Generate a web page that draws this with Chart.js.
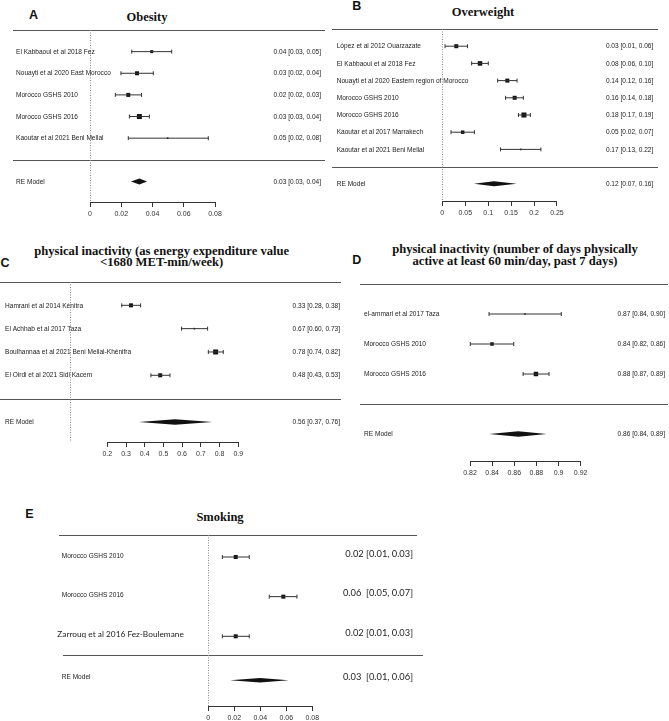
<!DOCTYPE html>
<html><head><meta charset="utf-8">
<script src="https://cdn.jsdelivr.net/npm/chart.js@4.4.1/dist/chart.umd.min.js"></script>
<style>
html,body{margin:0;padding:0;background:#fff;width:669px;height:721px;overflow:hidden;position:relative}
canvas{position:absolute}
.t{position:absolute;font-family:'Liberation Serif','Times New Roman',serif;font-weight:bold;color:#111;text-align:center;white-space:nowrap;transform:translate(-50%,-50%)}
.l{position:absolute;font-family:'Liberation Sans',Arial,sans-serif;font-weight:bold;color:#111;font-size:12.5px;line-height:13px;transform:translate(-50%,-50%)}
</style></head><body>
<div class="l" style="left:33.5px;top:14.6px">A</div>
<div class="l" style="left:356.7px;top:6px">B</div>
<div class="l" style="left:5px;top:262.5px">C</div>
<div class="l" style="left:356.7px;top:259.5px">D</div>
<div class="l" style="left:29.3px;top:514px">E</div>
<div class="t" style="left:147px;top:17px;font-size:12.5px">Obesity</div>
<div class="t" style="left:483px;top:12.3px;font-size:12.5px">Overweight</div>
<div class="t" style="left:161.7px;top:257.5px;font-size:12.6px;line-height:11.8px">physical inactivity (as energy expenditure value<br>&lt;1680 MET-min/week)</div>
<div class="t" style="left:515px;top:254.5px;font-size:12.6px;line-height:12.4px">physical inactivity (number of days physically<br>active at least 60 min/day, past 7 days)</div>
<div class="t" style="left:220px;top:516.7px;font-size:12.5px">Smoking</div>
<script>
// ---------- DATA ----------
// A: Obesity
const studiesA = ["El Kabbaoui et al 2018 Fez","Nouayti et al 2020 East Morocco","Morocco GSHS 2010","Morocco GSHS 2016","Kaoutar et al 2021 Beni Mellal"];
const estA = [0.0395,0.0301,0.0245,0.0316,0.0497];
const loA  = [0.0267,0.0198,0.0162,0.0252,0.0245];
const hiA  = [0.0523,0.0405,0.0330,0.0380,0.0757];
const ciTextA = ["0.04 [0.03, 0.05]","0.03 [0.02, 0.04]","0.02 [0.02, 0.03]","0.03 [0.03, 0.04]","0.05 [0.02, 0.08]"];
const reA = [0.0316,0.0262,0.0365];
const reTextA = "0.03 [0.03, 0.04]";
const ticksA = [0,0.02,0.04,0.06,0.08];
const tickLabelsA = ["0","0.02","0.04","0.06","0.08"];

// B: Overweight
const studiesB = ["López et al 2012 Ouarzazate","El Kabbaoui et al 2018 Fez","Nouayti et al 2020 Eastern region of Morocco","Morocco GSHS 2010","Morocco GSHS 2016","Kaoutar et al 2017 Marrakech","Kaoutar et al 2021 Beni Mellal"];
const estB = [0.0305,0.0822,0.1418,0.1578,0.1780,0.0444,0.1710];
const loB  = [0.0060,0.0640,0.1207,0.1380,0.1660,0.0190,0.1270];
const hiB  = [0.0550,0.1003,0.1630,0.1767,0.1920,0.0700,0.2150];
const ciTextB = ["0.03 [0.01, 0.06]","0.08 [0.06, 0.10]","0.14 [0.12, 0.16]","0.16 [0.14, 0.18]","0.18 [0.17, 0.19]","0.05 [0.02, 0.07]","0.17 [0.13, 0.22]"];
const reB = [0.1127,0.0690,0.1620];
const reTextB = "0.12 [0.07, 0.16]";
const ticksB = [0,0.05,0.1,0.15,0.2,0.25];
const tickLabelsB = ["0","0.05","0.1","0.15","0.2","0.25"];

// C: physical inactivity (energy expenditure)
const studiesC = ["Hamrani et al 2014 Kénitra","El Achhab et al 2017 Taza","Boulhannaa et al 2021 Beni Mellal-Khénifra","El Oirdi et al 2021 Sidi Kacem"];
const estC = [0.3266,0.6650,0.7790,0.4830];
const loC  = [0.2770,0.5970,0.7400,0.4330];
const hiC  = [0.3780,0.7360,0.8200,0.5350];
const ciTextC = ["0.33 [0.28, 0.38]","0.67 [0.60, 0.73]","0.78 [0.74, 0.82]","0.48 [0.43, 0.53]"];
const reC = [0.5620,0.3690,0.7610];
const reTextC = "0.56 [0.37, 0.76]";
const ticksC = [0.2,0.3,0.4,0.5,0.6,0.7,0.8,0.9];
const tickLabelsC = ["0.2","0.3","0.4","0.5","0.6","0.7","0.8","0.9"];

// D: physical inactivity (days active)
const studiesD = ["el-ammari et al 2017 Taza","Morocco GSHS 2010","Morocco GSHS 2016"];
const estD = [0.8697,0.8399,0.8796];
const loD  = [0.8372,0.8203,0.8680];
const hiD  = [0.9025,0.8595,0.8914];
const ciTextD = ["0.87 [0.84, 0.90]","0.84 [0.82, 0.86]","0.88 [0.87, 0.89]"];
const reD = [0.8636,0.8374,0.8893];
const reTextD = "0.86 [0.84, 0.89]";
const ticksD = [0.82,0.84,0.86,0.88,0.9,0.92];
const tickLabelsD = ["0.82","0.84","0.86","0.88","0.9","0.92"];

// E: Smoking
const studiesE = ["Morocco GSHS 2010","Morocco GSHS 2016","Zarrouq et al 2016 Fez-Boulemane"];
const estE = [0.0211,0.0577,0.0211];
const loE  = [0.0108,0.0469,0.0108];
const hiE  = [0.0315,0.0682,0.0315];
const ciTextE = ["0.02 [0.01, 0.03]","0.06  [0.05, 0.07]","0.02 [0.01, 0.03]"];
const reE = [0.0398,0.0167,0.0618];
const reTextE = "0.03  [0.01, 0.06]";
const ticksE = [0,0.02,0.04,0.06,0.08];
const tickLabelsE = ["0","0.02","0.04","0.06","0.08"];

// ---------- LAYOUT / STYLE ----------
const AXIS_H = 22;
const R_FONT = "8px 'Liberation Sans', Arial, sans-serif";
const R_SX = 0.82;
const CAL_FONT = "9.3px Lato, 'Open Sans', sans-serif";

const panels = [
 {id:'A', studies:studiesA, est:estA, lo:loA, hi:hiA, ciText:ciTextA, re:reA, reText:reTextA, ticks:ticksA, tickLabels:tickLabelsA,
  left:0, width:330, topPx:30, bottomPx:202, yMax:6, yMin:-1.95, rows:[5,4,3,2,1], sepY:0, reY:-1,
  anchorV:0, anchorPx:90, ppu:1562.5, labelX:16, ciX:321, topLine:[13,325], sepLine:[13,325],
  sides:[3,4,4,5,1.6], diamondH:3, refLine:true},
 {id:'B', studies:studiesB, est:estB, lo:loB, hi:hiB, ciText:ciTextB, re:reB, reText:reTextB, ticks:ticksB, tickLabels:tickLabelsB,
  left:330, width:339, topPx:29, bottomPx:201, yMax:8, yMin:-2, rows:[7,6,5,4,3,2,1], sepY:0, reY:-1,
  anchorV:0, anchorPx:442.3, ppu:458.6, labelX:336.7, ciX:653.3, topLine:[332,658], sepLine:[332,658],
  sides:[4,4.5,4,4,5,3.5,1.6], diamondH:2.5, refLine:true},
 {id:'C', studies:studiesC, est:estC, lo:loC, hi:hiC, ciText:ciTextC, re:reC, reText:reTextC, ticks:ticksC, tickLabels:tickLabelsC,
  left:0, width:345, topPx:282, bottomPx:442, yMax:5, yMin:-1.86, rows:[4,3,2,1], sepY:0, reY:-1,
  anchorV:0.2, anchorPx:107.3, ppu:187.1, labelX:5, ciX:340, topLine:[0,341], sepLine:[0,341],
  sides:[4,1.6,5,4], diamondH:2.7, refLine:true},
 {id:'D', studies:studiesD, est:estD, lo:loD, hi:hiD, ciText:ciTextD, re:reD, reText:reTextD, ticks:ticksD, tickLabels:tickLabelsD,
  left:340, width:329, topPx:284, bottomPx:461, yMax:4, yMin:-1.9, rows:[3,2,1], sepY:0, reY:-1,
  anchorV:0.82, anchorPx:470, ppu:1106.5, labelX:364, ciX:665, topLine:[360,668], sepLine:[360,668],
  sides:[1.6,3.5,4.5], diamondH:2.8, refLine:false},
 {id:'E', studies:studiesE, est:estE, lo:loE, hi:hiE, ciText:ciTextE, re:reE, reText:reTextE, ticks:ticksE, tickLabels:tickLabelsE,
  left:0, width:430, topPx:535, bottomPx:706, yMax:3.555, yMin:-0.758, rows:[3,2,1], sepY:0.537, reY:-0.11,
  anchorV:0, anchorPx:208.3, ppu:1300, labelX:61.7, ciX:413, topLine:[59,417], sepLine:[63,423],
  sides:[4,4,4], diamondH:2.2, refLine:true,
  labelFonts:[null,null,{font:"8.3px Lato, 'Open Sans', sans-serif", sx:1, x:57.3}], ciFont:CAL_FONT, ciSx:1, ciDy:-3.5, labelDy:-1.5, reLabelDy:-3.5}
];

function drawText(ctx, str, px, py, font, sx, align){
  ctx.save();
  ctx.translate(px, py);
  ctx.scale(sx, 1);
  ctx.font = font;
  ctx.fillStyle = '#222';
  ctx.textAlign = align;
  ctx.textBaseline = 'middle';
  ctx.fillText(str, 0, 0);
  ctx.restore();
}
function hLine(ctx, x0, x1, y){
  const yy = Math.round(y) + 0.5;
  ctx.beginPath(); ctx.moveTo(x0, yy); ctx.lineTo(x1, yy); ctx.stroke();
}

function forestPlugin(p){
  return {
    id: 'forest' + p.id,
    beforeDatasetsDraw(chart){
      const ctx = chart.ctx, x = chart.scales.x, y = chart.scales.y, L = p.left;
      ctx.save();
      ctx.strokeStyle = '#555'; ctx.lineWidth = 1;
      hLine(ctx, p.topLine[0]-L, p.topLine[1]-L, y.getPixelForValue(p.yMax));
      hLine(ctx, p.sepLine[0]-L, p.sepLine[1]-L, y.getPixelForValue(p.sepY));
      ctx.strokeStyle = '#333';
      hLine(ctx, x.getPixelForValue(p.ticks[0]), x.getPixelForValue(p.ticks[p.ticks.length-1]), y.getPixelForValue(p.yMin));
      if (p.refLine){
        const xx = Math.round(x.getPixelForValue(0)) + 0.5;
        ctx.strokeStyle = '#8a8a8a'; ctx.setLineDash([1,1.5]);
        ctx.beginPath(); ctx.moveTo(xx, y.getPixelForValue(p.yMax)); ctx.lineTo(xx, y.getPixelForValue(p.yMin)); ctx.stroke();
        ctx.setLineDash([]);
      }
      ctx.restore();
    },
    afterDatasetsDraw(chart){
      const ctx = chart.ctx, x = chart.scales.x, y = chart.scales.y, L = p.left;
      const yr = y.getPixelForValue(p.reY);
      ctx.save();
      ctx.fillStyle = '#111';
      ctx.beginPath();
      ctx.moveTo(x.getPixelForValue(p.re[1]), yr);
      ctx.lineTo(x.getPixelForValue(p.re[0]), yr - p.diamondH);
      ctx.lineTo(x.getPixelForValue(p.re[2]), yr);
      ctx.lineTo(x.getPixelForValue(p.re[0]), yr + p.diamondH);
      ctx.closePath(); ctx.fill();
      ctx.restore();
      const ciFont = p.ciFont || R_FONT, ciSx = p.ciSx || R_SX;
      const ciDy = p.ciDy || 0, labelDy = p.labelDy || 0;
      p.studies.forEach((s, i) => {
        const yy = y.getPixelForValue(p.rows[i]);
        const lf = p.labelFonts && p.labelFonts[i];
        if (lf) drawText(ctx, s, lf.x - L, yy + labelDy, lf.font, lf.sx, 'left');
        else drawText(ctx, s, p.labelX - L, yy + labelDy, R_FONT, R_SX, 'left');
        drawText(ctx, p.ciText[i], p.ciX - L, yy + ciDy, ciFont, ciSx, 'right');
      });
      drawText(ctx, 'RE Model', p.labelX - L, yr + (p.reLabelDy || 0), R_FONT, R_SX, 'left');
      drawText(ctx, p.reText, p.ciX - L, yr + ciDy, ciFont, ciSx, 'right');
    }
  };
}

function makeChart(p){
  const cv = document.createElement('canvas');
  const padTop = 6;
  const H = padTop + (p.bottomPx - p.topPx) + AXIS_H;
  cv.width = p.width; cv.height = H;
  cv.style.left = p.left + 'px'; cv.style.top = (p.topPx - padTop) + 'px';
  cv.style.width = p.width + 'px'; cv.style.height = H + 'px';
  document.body.appendChild(cv);
  const xMin = p.anchorV - (p.anchorPx - p.left) / p.ppu;
  const xMax = p.anchorV + (p.left + p.width - p.anchorPx) / p.ppu;
  const datasets = [];
  p.est.forEach((e, i) => {
    datasets.push({
      type: 'line',
      data: [{x: p.lo[i], y: p.rows[i]}, {x: p.hi[i], y: p.rows[i]}],
      borderColor: '#333', borderWidth: 1, fill: false, tension: 0,
      pointStyle: 'line', pointRotation: 90, pointRadius: 2,
      pointBorderColor: '#333', pointBorderWidth: 1
    });
  });
  datasets.push({
    type: 'scatter',
    data: p.est.map((e, i) => ({x: e, y: p.rows[i]})),
    pointStyle: 'rect',
    pointRadius: p.sides.map(s => s / Math.SQRT2),
    pointBackgroundColor: '#111', backgroundColor: '#111',
    pointBorderWidth: 0, borderWidth: 0
  });
  new Chart(cv, {
    type: 'scatter',
    data: {datasets},
    options: {
      responsive: false, animation: false, events: [], devicePixelRatio: 1,
      layout: {padding: {top: padTop, left: 0, right: 0, bottom: 0}, autoPadding: false},
      plugins: {legend: {display: false}, tooltip: {enabled: false}},
      scales: {
        x: {
          type: 'linear', min: xMin, max: xMax,
          afterBuildTicks(s){ s.ticks = p.ticks.map(v => ({value: v})); },
          afterFit(s){ s.height = AXIS_H; },
          grid: {display: true, drawOnChartArea: false, drawTicks: true, tickLength: 5, color: '#333', lineWidth: 1},
          border: {display: false},
          ticks: {autoSkip: false, maxRotation: 0, padding: 3, color: '#333',
                  font: {family: "'Liberation Sans', Arial, sans-serif", size: 7},
                  callback: (v, i) => p.tickLabels[i]}
        },
        y: {type: 'linear', display: false, min: p.yMin, max: p.yMax}
      }
    },
    plugins: [forestPlugin(p)]
  });
}

panels.forEach(makeChart);
</script>
</body></html>
